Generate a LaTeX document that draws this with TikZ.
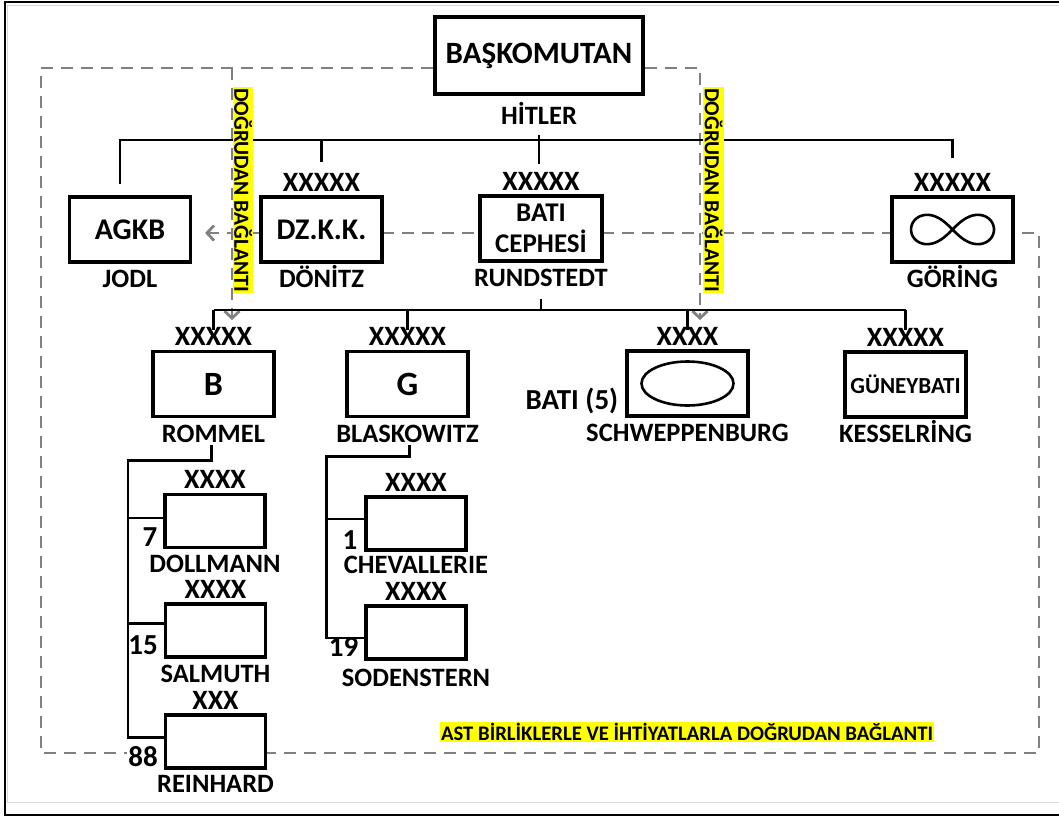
\documentclass[tikz,border=0pt]{standalone}
\usepackage{fontspec}
\setmainfont{Carlito}
\usetikzlibrary{arrows.meta,positioning,calc,backgrounds}
\definecolor{dashgrey}{RGB}{128,128,128}
\definecolor{hlyellow}{RGB}{255,255,0}
\definecolor{framegrey}{RGB}{215,215,215}

\tikzset{
  unit/.style={draw, line width=3.2pt, fill=white, minimum width=121pt, minimum height=65pt, inner sep=0pt, font=\fontsize{30}{35}\selectfont\bfseries},
  subunit/.style={unit, minimum width=100pt, minimum height=53pt},
  echelon/.style={inner sep=0pt, text height=17pt, text depth=0pt, font=\fontsize{28}{33}\selectfont\bfseries},
  cmdr/.style={inner sep=0pt, text height=18pt, text depth=0pt, font=\fontsize{26.5}{31}\selectfont\bfseries},
  armyno/.style={inner sep=1pt, fill=white, font=\fontsize{29}{34}\selectfont\bfseries},
  org/.style={line width=2.8pt},
  dline/.style={dashgrey, line width=2.8pt, dash pattern=on 12pt off 8pt},
  darrow/.style={dline, -{Straight Barb[length=7pt,width=15pt]}},
  hilite/.style={fill=hlyellow, inner sep=1.5pt, font=\fontsize{21.5}{24}\selectfont\bfseries}
}

\begin{document}
\begin{tikzpicture}[x=1pt, y=-1pt]
\useasboundingbox (0,0) rectangle (1059,816);
% frame
\draw[framegrey, line width=1pt] (1059,5.5) -- (7.5,5.5) -- (7.5,802) -- (1059,802);
\draw[line width=2pt] (1059,2) -- (4.5,2) -- (4.5,815) -- (1059,815);

% top command
\node[unit, minimum width=208pt, minimum height=77pt, font=\fontsize{31}{36}\selectfont\bfseries] (bas) at (539,55.5) {BAŞKOMUTAN};
\node[cmdr, below=11pt of bas] (hitler) {HİTLER};

% second row
\node[unit] (agkb) at (130,229.5) {AGKB};
\node[cmdr, below=6pt of agkb] (jodl) {JODL};
\node[unit] (dzkk) at (321.5,229.5) {DZ.K.K.};
\node[echelon, above=4pt of dzkk] (xdz) {XXXXX};
\node[cmdr, below=6pt of dzkk] (donitz) {DÖNİTZ};
\node[unit, minimum width=122pt, align=center, font=\fontsize{27}{31}\selectfont\bfseries] (bati) at (541,228.5) {BATI\\CEPHESİ};
\node[echelon, above=4pt of bati] (xbati) {XXXXX};
\node[cmdr, below=6pt of bati] (rund) {RUNDSTEDT};
\node[unit] (gor) at (952.5,229.5) {};
\node[echelon, above=4pt of gor] (xgor) {XXXXX};
\node[cmdr, below=6pt of gor] (goring) {GÖRİNG};
\draw[line width=2.6pt, shift={(gor.center)}] plot[domain=0:360, samples=120, smooth cycle]
  ({41.5*cos(\x)/(1+pow(sin(\x),2))}, {41.5*sin(\x)*cos(\x)/(1+pow(sin(\x),2))});

% army groups
\node[unit, font=\fontsize{34}{39}\selectfont\bfseries] (grB) at (213.5,384) {B};
\node[echelon, above=4pt of grB] (xB) {XXXXX};
\node[cmdr, below=6pt of grB] (rommel) {ROMMEL};
\node[unit, font=\fontsize{34}{39}\selectfont\bfseries] (grG) at (407.5,384) {G};
\node[echelon, above=4pt of grG] (xG) {XXXXX};
\node[cmdr, below=6pt of grG] (blask) {BLASKOWITZ};
\node[unit] (pz5) at (687.5,383.5) {};
\draw[line width=2.6pt] (pz5.center) ellipse (46pt and 22pt);
\node[echelon, above=4pt of pz5] (xpz) {XXXX};
\node[cmdr, below=6pt of pz5] (schw) {SCHWEPPENBURG};
\node[armyno, fill=none, anchor=base east] (bati5) at ([xshift=-6pt,yshift=8pt]pz5.south west) {BATI (5)};
\node[unit, font=\fontsize{23}{27}\selectfont\bfseries] (gb) at (905.5,384.5) {GÜNEYBATI};
\node[echelon, above=4pt of gb] (xgb) {XXXXX};
\node[cmdr, below=6pt of gb] (kessel) {KESSELRİNG};

% armies under B
\node[subunit] (a7) at (215,521) {};
\node[echelon, above=4pt of a7] (xa7) {XXXX};
\node[cmdr, below=5pt of a7] (dollmann) {DOLLMANN};
\node[armyno, anchor=base east] (n7) at ([xshift=-5pt,yshift=3pt]a7.south west) {7};
\node[subunit] (a15) at (215.5,630.5) {};
\node[echelon, above=4pt of a15] (xa15) {XXXX};
\node[cmdr, below=6pt of a15] (salmuth) {SALMUTH};
\node[armyno, anchor=base east] (n15) at ([xshift=-5pt,yshift=4pt]a15.south west) {15};
\node[subunit] (a88) at (215.5,741.5) {};
\node[echelon, above=4pt of a88] (xa88) {XXX};
\node[cmdr, below=5pt of a88] (reinhard) {REINHARD};
\node[armyno, anchor=base east] (n88) at ([xshift=-5pt,yshift=3pt]a88.south west) {88};

% armies under G
\node[subunit] (a1) at (416,523.5) {};
\node[echelon, above=4pt of a1] (xa1) {XXXX};
\node[cmdr, below=4pt of a1] (chev) {CHEVALLERIE};
\node[armyno, anchor=base east] (n1) at ([xshift=-6pt,yshift=2pt]a1.south west) {1};
\node[subunit] (a19) at (416,632.5) {};
\node[echelon, above=4pt of a19] (xa19) {XXXX};
\node[cmdr, below=8pt of a19] (soden) {SODENSTERN};
\node[armyno, anchor=base east] (n19) at ([xshift=-5pt,yshift=4pt]a19.south west) {19};

% command lines
\coordinate (bus1) at (0,140);
\coordinate (bus2) at (0,310);
\draw[org] ([xshift=-10pt,yshift=11pt]agkb.north) |- (bus1 -| gor.north) -- ++(0,18);
\draw[org] ([yshift=-10pt]hitler.south) -- ++(0,29);
\draw[org] (dzkk.north |- bus1) -- ++(0,22);
\draw[org] ([yshift=-12pt]rund.south) -- (rund.south |- bus2);
\draw[org] (grB.north |- bus2) -- (gb.north |- bus2);
\foreach \g in {grB,grG,pz5,gb}
  \draw[org] (\g.north |- bus2) -- ++(0,20);
\draw[org] ([xshift=-2pt,yshift=-2pt]rommel.south) -- ++(0,16) -| ([xshift=-36pt,yshift=4pt]a88.west) -- ([yshift=4pt]a88.west);
\draw[org] ([xshift=-36pt,yshift=3pt]a7.west) -- ([yshift=3pt]a7.west);
\draw[org] ([xshift=-36pt,yshift=7pt]a15.west) -- ([yshift=7pt]a15.west);
\draw[org] ([xshift=2pt,yshift=-2pt]blask.south) -- ++(0,12) -| ([xshift=-38pt,yshift=-5.5pt]a19.west) -- ([yshift=-5.5pt]a19.west);
\draw[org] ([xshift=-38pt,yshift=4.5pt]a1.west) -- ([yshift=4.5pt]a1.west);

% direct links
\coordinate (tl) at (41,68);
\coordinate (bl) at (41,753);
\coordinate (br) at (1039,753);
\coordinate (mr) at (1039,233);
\coordinate (lk1) at (232,320);
\coordinate (lk2) at (700,320);
\begin{scope}[on background layer]
\draw[dline] (bas.west |- tl) -- (tl) -- (bl) -- (br) -- (mr) -- (dzkk.east |- mr);
\draw[darrow] (lk1 |- tl) -- (lk1);
\draw[darrow] (bas.east |- tl) -| (lk2);
\draw[darrow] (dzkk.west |- mr) -- ([xshift=13pt]agkb.east |- mr);
\end{scope}

\node[hilite, rotate=-90] (dl1) at (243,190) {DOĞRUDAN BAĞLANTI};
\node[hilite, rotate=-90] (dl2) at (713.5,190) {DOĞRUDAN BAĞLANTI};
\node[hilite, font=\fontsize{20.7}{24}\selectfont\bfseries] (ast) at (687,732) {AST BİRLİKLERLE\ VE\ İHTİYATLARLA DOĞRUDAN\ BAĞLANTI};
\end{tikzpicture}
\end{document}
